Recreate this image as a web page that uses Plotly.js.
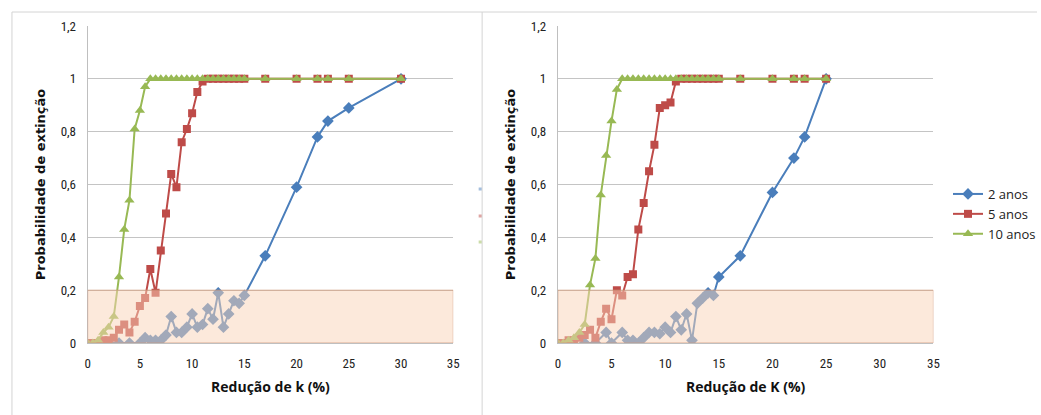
<!DOCTYPE html>
<html>
<head>
<meta charset="utf-8">
<script src="https://cdn.plot.ly/plotly-3.0.1.min.js"></script>
<style>html,body{margin:0;padding:0;background:#fff;}#chart{width:1041px;height:415px;}</style>
</head>
<body>
<div id="chart"></div>
<script>
// ---------- Data: left chart (Redução de k) ----------
const leftX2 = [2,3,4,5,5.5,6,6.5,7,7.5,8,8.5,9,9.5,10,10.5,11,11.5,12,12.5,13,13.5,14,14.5,15,17,20,22,23,25,30];
const leftY2 = [0,0,0,0,0.02,0.01,0.01,0.01,0.03,0.10,0.04,0.04,0.06,0.11,0.06,0.07,0.13,0.09,0.19,0.06,0.11,0.16,0.15,0.18,0.33,0.59,0.78,0.84,0.89,1];

const leftX5 = [0,0.5,1,1.5,2,2.5,3,3.5,4,4.5,5,5.5,6,6.5,7,7.5,8,8.5,9,9.5,10,10.5,11,11.5,12,12.5,13,13.5,14,14.5,15,17,20,22,23,25,30];
const leftY5 = [0,0,0,0.01,0.01,0.02,0.05,0.07,0.04,0.08,0.14,0.17,0.28,0.19,0.35,0.49,0.64,0.59,0.76,0.81,0.87,0.95,0.99,1,1,1,1,1,1,1,1,1,1,1,1,1,1];

const leftX10 = [0,0.5,1,1.5,2,2.5,3,3.5,4,4.5,5,5.5,6,6.5,7,7.5,8,8.5,9,9.5,10,10.5,11,11.5,12,12.5,13,13.5,14,14.5,15,17,20,22,23,25,30];
const leftY10 = [0,0,0.01,0.04,0.06,0.10,0.25,0.43,0.54,0.81,0.88,0.97,1,1,1,1,1,1,1,1,1,1,1,1,1,1,1,1,1,1,1,1,1,1,1,1,1];

// ---------- Data: right chart (Redução de K) ----------
const rightX2 = [2.5,3.5,4.5,5,6,6.5,7,7.5,8,8.5,9,9.5,10,10.5,11,11.5,12,12.5,13,13.5,14,14.5,15,17,20,22,23,25];
const rightY2 = [0,0,0.04,0,0.04,0.01,0.01,0,0.02,0.04,0.04,0.035,0.06,0.04,0.10,0.05,0.11,0.01,0.15,0.17,0.19,0.18,0.25,0.33,0.57,0.70,0.78,1];

const rightX5 = [0,0.5,1,1.5,2,2.5,3,3.5,4,4.5,5,5.5,6,6.5,7,7.5,8,8.5,9,9.5,10,10.5,11,11.5,12,12.5,13,13.5,14,14.5,15,17,20,22,23,25];
const rightY5 = [0,0,0.01,0.01,0.02,0.03,0.05,0.02,0.08,0.13,0.09,0.20,0.18,0.25,0.26,0.43,0.53,0.65,0.75,0.89,0.90,0.91,0.99,1,1,1,1,1,1,1,1,1,1,1,1,1];

const rightX10 = [0,0.5,1,1.5,2,2.5,3,3.5,4,4.5,5,5.5,6,6.5,7,7.5,8,8.5,9,9.5,10,10.5,11,11.5,12,12.5,13,13.5,14,14.5,15,17,20,22,23,25];
const rightY10 = [0,0,0.01,0.02,0.04,0.07,0.22,0.32,0.56,0.71,0.84,0.96,1,1,1,1,1,1,1,1,1,1,1,1,1,1,1,1,1,1,1,1,1,1,1,1];

const seriesNames = ['2 anos','5 anos','10 anos'];
const yTicks = [0,0.2,0.4,0.6,0.8,1,1.2];
const xTicks = [0,5,10,15,20,25,30,35];
const yTitle = 'Probabilidade de extinção';
const xTitleLeft = 'Redução de k (%)';
const xTitleRight = 'Redução de K (%)';

// ---------- Styles ----------
const colors = ['#4A7EBB','#BE4B48','#98B954'];
const symbols = ['diamond','square','triangle-up'];
const msizes = [9,8,9];

function mk(x,y,i,xa,ya,show){
  return {
    x:x, y:y, type:'scatter', mode:'lines+markers', name:seriesNames[i],
    xaxis:xa, yaxis:ya, showlegend:show, legendgroup:'g'+i,
    line:{color:colors[i], width:2},
    marker:{symbol:symbols[i], size:msizes[i], color:colors[i]},
    hoverinfo:'skip'
  };
}

const traces = [
  mk(leftX2,leftY2,0,'x','y',false),
  mk(leftX5,leftY5,1,'x','y',false),
  mk(leftX10,leftY10,2,'x','y',false),
  mk(rightX2,rightY2,0,'x2','y2',true),
  mk(rightX5,rightY5,1,'x2','y2',true),
  mk(rightX10,rightY10,2,'x2','y2',true)
];

const W=1041, H=415;
const tickFont = {family:'"Liberation Sans Narrow", "Roboto Condensed", "Liberation Sans", Arial, sans-serif', size:13, color:'#222'};
const yTitleFont = {family:'"DejaVu Sans", Verdana, sans-serif', size:13, color:'#111', weight:'bold'};
const xTitleFont = {family:'"Open Sans", "Liberation Sans", sans-serif', size:14, color:'#111', weight:'bold'};

function xax(domain, title, anchor){
  return {
    domain:domain, anchor:anchor, range:[0,35], tickvals:xTicks, showgrid:false, zeroline:false,
    showline:true, linecolor:'#BFBFBF', linewidth:1,
    ticks:'outside', ticklen:8, tickcolor:'rgba(0,0,0,0)',
    tickfont:tickFont, fixedrange:true,
    title:{text:title, font:xTitleFont, standoff:12}
  };
}
function yax(domain, anchor){
  return {
    domain:domain, anchor:anchor, range:[0,1.2], tickvals:yTicks, tickformat:'.1~f',
    showgrid:true, gridcolor:'#C4C4C4', gridwidth:1, zeroline:false,
    showline:true, linecolor:'#BFBFBF', linewidth:1,
    ticks:'outside', ticklen:8, tickcolor:'rgba(0,0,0,0)',
    tickfont:tickFont, fixedrange:true,
    title:{text:yTitle, font:yTitleFont, standoff:12}
  };
}

const yDom = [1-343/H, 1-26/H];
const band = (xr,yr)=>({type:'rect', xref:xr, yref:yr, x0:0, x1:35, y0:0, y1:0.2,
  fillcolor:'rgba(249,212,184,0.5)', line:{color:'rgba(205,150,120,0.7)', width:1}, layer:'above'});
const pline = (x0,y0,x1,y1)=>({type:'line', xref:'paper', yref:'paper', x0:x0/W, x1:x1/W, y0:1-y0/H, y1:1-y1/H,
  line:{color:'#D4D4D4', width:1}, layer:'below'});
const dot = (x,y,c)=>({type:'rect', xref:'paper', yref:'paper', x0:(x-1.5)/W, x1:(x+1.5)/W, y0:1-(y+1.5)/H, y1:1-(y-1.5)/H,
  fillcolor:c, line:{width:0}, opacity:0.5});

const layout = {
  width:W, height:H, margin:{l:0,r:0,t:0,b:0},
  paper_bgcolor:'#fff', plot_bgcolor:'#fff',
  separators:', ',
  showlegend:true,
  xaxis: xax([88/W, 455/W], xTitleLeft, 'y'),
  yaxis: yax(yDom, 'x'),
  xaxis2: xax([560/W, 937/W], xTitleRight, 'y2'),
  yaxis2: yax(yDom, 'x2'),
  legend:{x:952/W, y:1-214/H, xanchor:'left', yanchor:'middle', tracegroupgap:9,
    font:{family:'"Open Sans", "Liberation Sans", sans-serif', size:13, color:'#222'},
    bgcolor:'rgba(0,0,0,0)', itemwidth:30, traceorder:'normal'},
  shapes:[
    band('x','y'), band('x2','y2'),
    pline(12,12,1041,12), pline(12,12,12,415), pline(484,12,484,415),
    dot(482,189,'#4A7EBB'), dot(482,216,'#BE4B48'), dot(482,242,'#98B954')
  ],
  hovermode:false
};

Plotly.newPlot('chart', traces, layout, {staticPlot:true, displayModeBar:false});
</script>
</body>
</html>
